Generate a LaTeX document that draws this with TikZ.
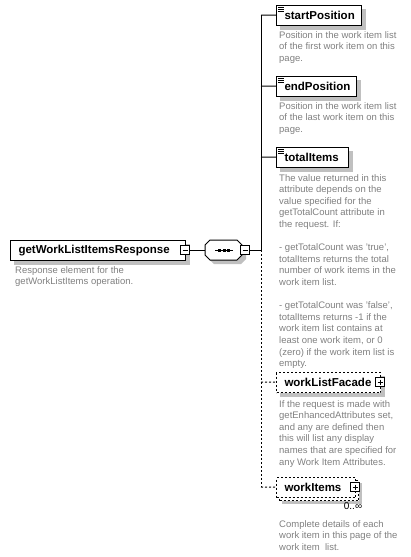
\documentclass[tikz,border=0pt]{standalone}
\usepackage{fontspec}
\setmainfont{Liberation Sans}
\usetikzlibrary{shadows,backgrounds}
\definecolor{desc}{RGB}{128,128,128}
\definecolor{shad}{RGB}{192,192,192}
\begin{document}
\begin{tikzpicture}[x=1pt,y=-1pt,
  conn/.style={line width=1pt},
  optconn/.style={line width=1pt, dash pattern=on 2pt off 2pt},
  elem/.style={draw=black, line width=1pt, fill=white, inner xsep=8pt, inner ysep=0pt,
    minimum height=20pt, anchor=north west, align=left,
    font=\fontsize{11.5}{13}\selectfont\bfseries},
  optelem/.style={elem, dash pattern=on 2pt off 2pt},
  descr/.style={anchor=north west, inner sep=0pt, align=left, text=desc,
    font=\fontsize{9.5}{11.6}\selectfont},
  pm/.style={draw=black, line width=0.8pt, fill=white, minimum size=9pt, inner sep=0pt},
  minus/.style={pm, path picture={\draw[line width=1pt]
      ([xshift=2pt]path picture bounding box.west) -- ([xshift=-2pt]path picture bounding box.east);}},
  plus/.style={pm, path picture={\draw[line width=1pt]
      ([xshift=2pt]path picture bounding box.west) -- ([xshift=-2pt]path picture bounding box.east)
      ([yshift=-2pt]path picture bounding box.north) -- ([yshift=2pt]path picture bounding box.south);}},
  icon/.style={line width=0.6pt}
]
\useasboundingbox (0,0) rectangle (410,557);

% root element
\node[elem, text width=159pt] (root) at (10,240) {getWorkListItemsResponse};
\node[minus] (rootm) at (185,250) {};
\node[descr] (rootd) at (15,266) {Response element for the\\getWorkListItems operation.};

% sequence compositor
\fill[shad] (209,249) -- (214,244) -- (241,244) -- (246,249) -- (246,259) -- (241,264) -- (214,264) -- (209,259) -- cycle;
\draw[line width=1pt, fill=white] (205,245) -- (210,240) -- (237,240) -- (242,245) -- (242,255) -- (237,260) -- (210,260) -- (205,255) -- cycle;
\node[minimum width=37pt, minimum height=20pt, inner sep=0pt] (seq) at (223.5,250) {};
\draw[line width=1pt] (215,250) -- (233,250);
\fill (218,248.5) rectangle (221,251.5);
\fill (222.5,248.5) rectangle (225.5,251.5);
\fill (227,248.5) rectangle (230,251.5);
\node[minus] (seqm) at (245,250) {};

\draw[conn] (rootm) -- (seq);

% bus
\coordinate (bus) at (261,250);
\coordinate (b1) at (261,15);
\coordinate (b2) at (261,86);
\coordinate (b3) at (261,157);
\coordinate (b4) at (261,382);
\coordinate (b5) at (261,487);
\draw[conn] (seqm) -- (bus);
\draw[conn] (b1) -- (bus);
\draw[optconn] (bus) -- (b5);

% children
\node[elem, text width=69pt] (sp) at (276,5) {startPosition};
\node[elem, text width=64pt] (ep) at (276,76) {endPosition};
\node[elem, text width=56pt] (ti) at (276,147) {totalItems};
\node[optelem, text width=88pt] (wlf) at (276,372) {workListFacade};
\node[plus] (wlfp) at (380,382) {};
\node[optelem, text width=63pt,
  copy shadow={shadow xshift=3pt, shadow yshift=-3pt, fill=white, draw=black, line width=1pt, dash pattern=on 2pt off 2pt}] (wi) at (276,477) {workItems};
\node[plus] (wip) at (355,487) {};
\node[font=\fontsize{10}{11}\selectfont] (wim) at (353,506) {0..∞};

\begin{scope}[on background layer]
  \foreach \n in {root,sp,ep,ti,wlf}{
    \fill[shad] ([shift={(4,4)}]\n.north west) rectangle ([shift={(4,4)}]\n.south east);
  }
  \fill[shad] ([shift={(6,6)}]wi.north west) rectangle ([shift={(6,6)}]wi.south east);
\end{scope}

\foreach \n in {sp,ep,ti}{
  \draw[icon] ([shift={(2,2.5)}]\n.north west) -- ++(6,0);
  \draw[icon] ([shift={(2,4.5)}]\n.north west) -- ++(6,0);
  \draw[icon] ([shift={(2,6.5)}]\n.north west) -- ++(6,0);
}

\draw[conn] (b1) -- (sp);
\draw[conn] (b2) -- (ep);
\draw[conn] (b3) -- (ti);
\draw[optconn] (b4) -- (wlf);
\draw[optconn] (b5) -- (wi);

% descriptions
\node[descr] (spd) at (279,31) {Position in the work item list\\of the first work item on this\\page.};
\node[descr] (epd) at (279,102) {Position in the work item list\\of the last work item on this\\page.};
\node[descr] (tid) at (279,174) {The value returned in this\\attribute depends on the\\value specified for the\\getTotalCount attribute in\\the request. If:\\[11.6pt]- getTotalCount was 'true',\\totalItems returns the total\\number of work items in the\\work item list.\\[11.6pt]- getTotalCount was 'false',\\totalItems returns -1 if the\\work item list contains at\\least one work item, or 0\\(zero) if the work item list is\\empty.};
\node[descr] (wlfd) at (279,400) {If the request is made with\\getEnhancedAttributes set,\\and any are defined then\\this will list any display\\names that are specified for\\any Work Item Attributes.};
\node[descr] (wid) at (279,520) {Complete details of each\\work item in this page of the\\work item~ list.};
\end{tikzpicture}
\end{document}
